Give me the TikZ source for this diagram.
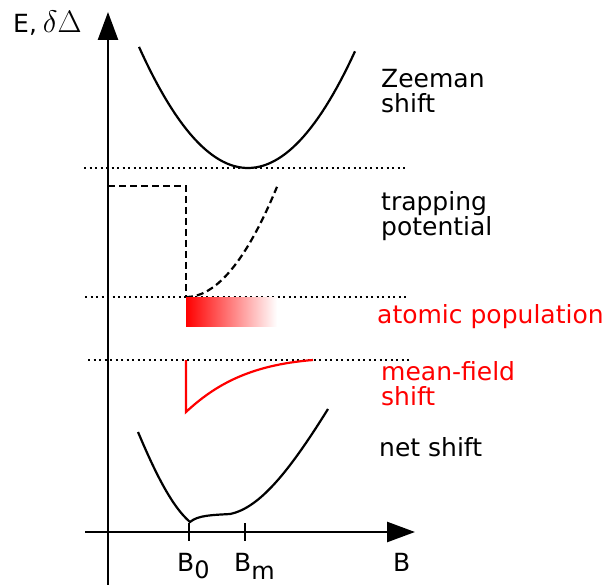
\documentclass[tikz,border=0pt]{standalone}
\usepackage{fontspec}
\setmainfont{DejaVu Sans}
\usetikzlibrary{arrows.meta}
\begin{document}
\begin{tikzpicture}[x=1pt,y=-1pt,
  axis/.style={line width=2.6pt,-{Triangle[length=28pt,width=20pt]}},
  curve/.style={line width=2.2pt},
  dotline/.style={line width=2.2pt,dash pattern=on 2.2pt off 3.3pt},
  dashline/.style={line width=2.2pt,dash pattern=on 7pt off 4pt},
  lbl/.style={anchor=base west,inner sep=0pt,font=\fontsize{25}{25}\selectfont,align=left},
  tick/.style={line width=2.4pt}]
\useasboundingbox (0,0) rectangle (610,585);
% axes
\coordinate (ybot) at (108,585);
\coordinate (ytop) at (108,12);
\coordinate (xl) at (85,532);
\coordinate (xr) at (415,532);
\draw[axis] (ybot) -- (ytop);
\draw[axis] (xl) -- (xr);
\coordinate (t0a) at (189,523); \coordinate (t0b) at (189,541);
\coordinate (tma) at (245,523); \coordinate (tmb) at (245,541);
\draw[tick] (t0a) -- (t0b);
\draw[tick] (tma) -- (tmb);
\node[lbl] (b0) at (177,571) {B\raisebox{-7pt}{\fontsize{24}{24}\selectfont 0}};
\node[lbl] (bm) at (234,571) {B\raisebox{-8pt}{\fontsize{24}{24}\selectfont m}};
\node[lbl] (b) at (393,571) {B};
\node[lbl] (e) at (13,33) {E,\hspace{6pt}\scalebox{1.25}{$\delta\Delta$}};
% dotted levels
\coordinate (d1a) at (84,168); \coordinate (d1b) at (407,168);
\coordinate (d2a) at (85,297); \coordinate (d2b) at (407,297);
\coordinate (d3a) at (88,360); \coordinate (d3b) at (410,360);
\draw[dotline] (d1a) -- (d1b);
\draw[dotline] (d2a) -- (d2b);
\draw[dotline] (d3a) -- (d3b);
% Zeeman shift
\draw[curve] plot[domain=139:355,samples=60] (\x,{168-0.0102*(\x-248)*(\x-248)});
\node[lbl] (zee) at (381,113) {Zeeman\\shift};
% trapping potential
\coordinate (tp1) at (108,186); \coordinate (tp2) at (186,186); \coordinate (tp3) at (186,297);
\draw[dashline] (tp1) -- (tp2) -- (tp3);
\draw[dashline] plot[domain=186:277,samples=40] (\x,{297-0.0133*(\x-186)*(\x-186)});
\node[lbl] (trap) at (381,236) {trapping\\potential};
% atomic population
\shade[left color=red,right color=white] (186,297) rectangle (277,326);
\node[lbl,text=red] (atom) at (377,323) {atomic population};
% mean-field shift
\coordinate (mf1) at (186,360); \coordinate (mf2) at (186,412); \coordinate (mf3) at (313,360);
\draw[curve,red] (mf1) -- (mf2) .. controls (215,385) and (250,365) .. (mf3);
\node[lbl,text=red] (mf) at (381,405) {mean-field\\shift};
% net shift
\coordinate (n1) at (138,432); \coordinate (n2) at (190,522);
\coordinate (n3) at (230,514); \coordinate (n4) at (328,409);
\draw[curve] (n1) .. controls (152,465) and (170,505) .. (n2)
  .. controls (198,515) and (214,515) .. (n3)
  .. controls (260,508) and (290,470) .. (n4);
\node[lbl] (net) at (379,456) {net shift};
\end{tikzpicture}
\end{document}
